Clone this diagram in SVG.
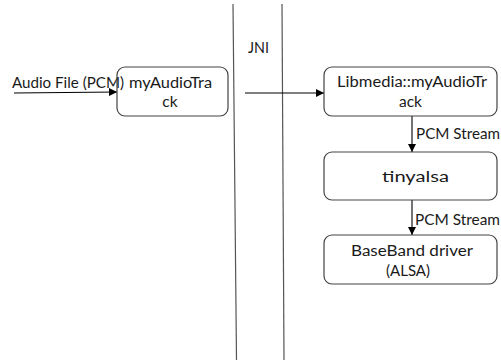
<svg xmlns="http://www.w3.org/2000/svg" width="501" height="360" viewBox="0 0 501 360">
  <style>
    .box { fill: none; stroke: #444444; stroke-width: 1.2; }
    .lane { stroke: #555555; stroke-width: 1.2; fill: none; }
    .flow { stroke: #000000; stroke-width: 1.1; fill: none; marker-end: url(#head); }
    text { font-family: Lato, "Liberation Sans", sans-serif; font-size: 15.5px; fill: #1a1a1a; }
    .lbl { font-size: 15px; }
  </style>
  <defs>
    <marker id="head" viewBox="0 0 10 10" refX="10" refY="5" markerWidth="8" markerHeight="8" markerUnits="userSpaceOnUse" orient="auto">
      <path d="M0,0 L10,5 L0,10 z" fill="#000000"/>
    </marker>
  </defs>

  <rect width="501" height="360" fill="#ffffff"/>

  <!-- JNI boundary lanes -->
  <g id="jni-boundary">
    <line class="lane" x1="233" y1="4" x2="236.5" y2="360"/>
    <line class="lane" x1="282" y1="4" x2="284" y2="360"/>
    <text x="248" y="53" textLength="21" lengthAdjust="spacingAndGlyphs">JNI</text>
  </g>

  <!-- connectors -->
  <g id="connectors">
    <line class="flow" x1="14" y1="93" x2="117" y2="92"/>
    <line class="flow" x1="245" y1="93" x2="324" y2="93"/>
    <line class="flow" x1="412" y1="116" x2="412" y2="152"/>
    <line class="flow" x1="412" y1="200" x2="412" y2="235"/>
    <text x="12" y="88" textLength="112" lengthAdjust="spacingAndGlyphs">Audio File (PCM)</text>
    <text class="lbl" x="416" y="139" textLength="84" lengthAdjust="spacingAndGlyphs">PCM Stream</text>
    <text class="lbl" x="415" y="225" textLength="85" lengthAdjust="spacingAndGlyphs">PCM Stream</text>
  </g>

  <g id="myAudioTrack">
    <rect class="box" x="117" y="67" width="111" height="49" rx="8"/>
    <text x="129" y="88" textLength="83" lengthAdjust="spacingAndGlyphs">myAudioTra</text>
    <text x="170" y="107" text-anchor="middle">ck</text>
  </g>

  <g id="libmedia">
    <rect class="box" x="324" y="67" width="173" height="49" rx="8"/>
    <text x="337" y="87" textLength="150" lengthAdjust="spacingAndGlyphs">Libmedia::myAudioTr</text>
    <text x="399" y="107" textLength="23" lengthAdjust="spacingAndGlyphs">ack</text>
  </g>

  <g id="tinyalsa">
    <rect class="box" x="324" y="152" width="173" height="48" rx="8"/>
    <text x="382" y="182" textLength="67" lengthAdjust="spacingAndGlyphs">tinyalsa</text>
  </g>

  <g id="baseband-driver">
    <rect class="box" x="324" y="235" width="173" height="49" rx="8"/>
    <text x="351" y="256" textLength="122" lengthAdjust="spacingAndGlyphs">BaseBand  driver</text>
    <text x="386" y="276" textLength="44" lengthAdjust="spacingAndGlyphs">(ALSA)</text>
  </g>
</svg>
